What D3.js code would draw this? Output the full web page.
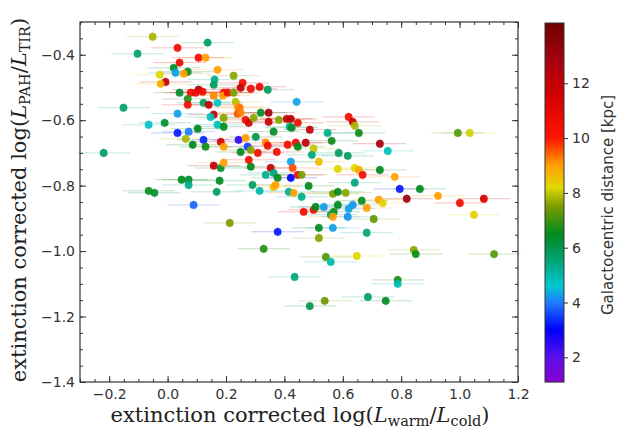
<!DOCTYPE html>
<html><head><meta charset="utf-8">
<script src="https://cdn.jsdelivr.net/npm/d3@7"></script>
<style>body{margin:0;background:#fff}svg{display:block}</style>
</head><body>
<svg id="chart" width="617" height="429"></svg>
<script>
// ---- data ----
const xVals = [-0.051,-0.103,0.137,0.034,0.106,0.130,0.041,0.021,0.027,0.069,0.055,-0.027,-0.007,-0.024,0.106,0.079,0.096,0.041,0.069,0.069,0.123,0.141,-0.151,0.034,-0.010,-0.065,0.072,0.034,0.103,
0.171,0.226,0.161,0.158,0.257,0.250,0.285,0.315,0.343,0.120,0.192,0.189,0.206,0.226,0.158,0.171,0.233,0.240,0.247,0.442,0.158,0.147,0.192,0.240,0.250,0.267,0.278,0.295,0.319,0.346,0.346,0.381,0.408,0.422,0.446,0.418,0.363,0.171,0.192,
0.123,0.182,0.192,0.243,0.267,0.274,0.302,0.336,0.343,0.411,0.439,0.473,0.487,0.425,0.548,0.562,0.620,0.634,0.641,0.655,0.727,0.754,0.446,0.500,0.494,0.586,0.617,0.518,0.422,0.583,0.641,0.655,0.668,0.727,0.778,0.428,0.446,0.459,
0.994,1.035,0.795,0.864,0.819,0.926,1.001,1.083,0.483,0.459,0.566,0.583,0.610,0.641,0.665,0.723,0.737,0.634,0.682,0.620,1.049,0.466,0.500,0.507,0.535,0.583,0.569,0.559,0.566,0.617,0.706,0.518,0.566,0.518,0.682,
0.542,0.559,0.648,0.843,0.850,1.118,0.788,0.788,0.686,0.747,0.538,0.487,0.435,0.329,0.377,0.213,0.089,-0.045,-0.065,0.048,0.072,0.072,0.168,0.178,0.285,0.158,0.182,0.192,0.353,0.336,0.363,0.377,0.291,0.315,0.363,
0.278,0.250,0.285,0.309,0.374,0.062,0.086,0.130,0.422,0.370,0.415,0.432,-0.219];
const yVals = [-0.345,-0.397,-0.363,-0.379,-0.409,-0.409,-0.424,-0.440,-0.455,-0.452,-0.458,-0.461,-0.483,-0.489,-0.507,-0.516,-0.516,-0.516,-0.535,-0.553,-0.547,-0.553,-0.562,-0.580,-0.608,-0.614,-0.635,-0.639,-0.626,
-0.446,-0.464,-0.476,-0.492,-0.486,-0.501,-0.504,-0.498,-0.507,-0.513,-0.516,-0.525,-0.516,-0.516,-0.525,-0.547,-0.544,-0.559,-0.562,-0.544,-0.583,-0.590,-0.593,-0.580,-0.577,-0.599,-0.608,-0.593,-0.577,-0.577,-0.605,-0.599,-0.596,-0.596,-0.608,-0.620,-0.635,-0.614,-0.620,
-0.660,-0.666,-0.681,-0.660,-0.654,-0.681,-0.651,-0.669,-0.678,-0.675,-0.669,-0.669,-0.629,-0.623,-0.639,-0.663,-0.590,-0.605,-0.617,-0.639,-0.672,-0.694,-0.681,-0.687,-0.706,-0.700,-0.709,-0.727,-0.727,-0.749,-0.746,-0.752,-0.767,-0.752,-0.773,-0.746,-0.767,-0.767,
-0.639,-0.639,-0.810,-0.810,-0.840,-0.831,-0.853,-0.840,-0.801,-0.834,-0.825,-0.819,-0.822,-0.791,-0.846,-0.843,-0.853,-0.859,-0.868,-0.871,-0.889,-0.880,-0.874,-0.865,-0.865,-0.859,-0.880,-0.889,-0.895,-0.895,-0.902,-0.929,-0.929,-0.960,-0.944,
-1.018,-1.033,-1.015,-0.996,-1.009,-1.009,-1.088,-1.100,-1.140,-1.152,-1.152,-1.168,-1.079,-0.993,-0.941,-0.914,-0.859,-0.822,-0.816,-0.782,-0.782,-0.798,-0.819,-0.785,-0.742,-0.739,-0.746,-0.730,-0.746,-0.767,-0.761,-0.776,-0.798,-0.816,-0.804,
-0.721,-0.697,-0.691,-0.700,-0.697,-0.657,-0.675,-0.681,-0.776,-0.798,-0.819,-0.822,-0.700];
const dist = [7.8,5.6,5.8,10.5,10.5,9.0,10.8,6.4,4.3,6.6,9.0,8.2,12.0,8.8,12.8,10.5,10.8,6.3,6.8,10.5,5.8,12.0,5.6,4.3,6.3,4.7,4.0,3.2,6.5,
9.0,7.6,5.3,5.8,10.5,12.0,10.5,10.8,5.8,10.5,10.2,9.0,10.5,7.5,9.2,4.7,7.9,9.0,9.3,4.3,12.0,4.8,7.6,9.6,9.2,10.5,11.5,7.6,6.3,12.8,11.8,7.6,12.0,12.2,10.5,5.3,6.4,4.8,6.4,
3.3,11.5,9.0,2.5,9.0,3.5,6.0,9.2,10.5,10.5,10.5,12.0,12.0,6.4,5.3,6.6,10.5,12.0,7.8,6.6,12.8,4.8,6.5,8.0,5.5,5.8,5.8,8.6,4.3,8.2,8.2,8.9,10.5,6.5,9.0,9.6,10.5,7.5,
7.2,8.1,3.2,6.5,13.0,9.0,10.5,11.5,6.5,5.3,7.5,6.5,7.6,5.5,6.6,9.0,8.3,4.2,9.0,4.3,8.3,10.5,10.5,6.5,4.3,6.5,6.6,5.8,9.0,4.2,7.3,6.5,4.3,7.6,5.5,
7.2,5.0,8.2,7.6,6.6,7.2,6.7,4.9,5.7,6.5,7.4,6.0,5.5,6.8,3.2,7.5,3.8,6.3,6.6,6.5,6.3,5.3,5.8,6.5,6.5,12.0,6.4,9.0,12.0,5.3,5.5,6.5,5.8,5.0,8.6,
10.5,6.5,7.6,10.5,10.5,7.8,6.5,6.6,3.0,9.0,5.3,9.0,5.8];
const xErr = 0.09;      // typical horizontal error
const yErr = 0.015;     // typical vertical error
const xTicks = [-0.2,0.0,0.2,0.4,0.6,0.8,1.0,1.2];
const yTicks = [-1.4,-1.2,-1.0,-0.8,-0.6,-0.4];
const cbTicks = [2,4,6,8,10,12];
const cmapStops = [1.1,2,3,4,4.6,5.5,6.5,7.5,8.2,9,10,11.5,13,14.2];
const cmapColors = ['#8a00d4','#5a10e8','#0000ff','#1e7cff','#00c8d0','#00a57a','#008a1e','#7a9c00','#e0d800','#ffa000','#ff1400','#d40000','#a00010','#700000'];

// ---- drawing ----
const svg = d3.select('#chart');
const L=80, R=518, T=22, B=382;
const x = d3.scaleLinear().domain([-0.3,1.2]).range([L,R]);
const y = d3.scaleLinear().domain([-1.4,-0.3]).range([B,T]);
const cmap = d3.scaleLinear().domain(cmapStops).range(cmapColors).interpolate(d3.interpolateRgb).clamp(true);

const pts = xVals.map((v,i)=>({x:v,y:yVals[i],c:dist[i]}));
const g = svg.append('g');
// error bars
g.selectAll('line.ex').data(pts).join('line')
  .attr('x1',d=>x(d.x-xErr)).attr('x2',d=>x(d.x+xErr))
  .attr('y1',d=>y(d.y)).attr('y2',d=>y(d.y))
  .attr('stroke',d=>cmap(d.c)).attr('stroke-opacity',0.25).attr('stroke-width',1);
g.selectAll('line.ey').data(pts).join('line')
  .attr('x1',d=>x(d.x)).attr('x2',d=>x(d.x))
  .attr('y1',d=>y(d.y-yErr)).attr('y2',d=>y(d.y+yErr))
  .attr('stroke',d=>cmap(d.c)).attr('stroke-opacity',0.25).attr('stroke-width',1);
g.selectAll('circle').data(pts).join('circle')
  .attr('cx',d=>x(d.x)).attr('cy',d=>y(d.y)).attr('r',3.9)
  .attr('fill',d=>cmap(d.c)).attr('fill-opacity',0.92);

// axes with inward ticks on all sides
const tickFont = 'DejaVu Sans, sans-serif';
const minorX = d3.range(-0.3,1.2001,0.05);
const minorY = d3.range(-1.4,-0.2999,0.05);
function styleAxis(sel){
  sel.select('.domain').remove();
  sel.selectAll('line').attr('stroke','#333');
  sel.selectAll('text').attr('font-family',tickFont).attr('font-size',14).attr('fill','#333');
}
svg.append('g').attr('transform',`translate(0,${B})`)
  .call(d3.axisBottom(x).tickValues(minorX).tickSize(-3).tickFormat('')).call(styleAxis);
svg.append('g').attr('transform',`translate(0,${B})`)
  .call(d3.axisBottom(x).tickValues(xTicks).tickSize(-6).tickPadding(7).tickFormat(d3.format('.1f'))).call(styleAxis);
svg.append('g').attr('transform',`translate(0,${T})`)
  .call(d3.axisTop(x).tickValues(minorX).tickSize(-3).tickFormat('')).call(styleAxis);
svg.append('g').attr('transform',`translate(0,${T})`)
  .call(d3.axisTop(x).tickValues(xTicks).tickSize(-6).tickFormat('')).call(styleAxis);
svg.append('g').attr('transform',`translate(${L},0)`)
  .call(d3.axisLeft(y).tickValues(minorY).tickSize(-3).tickFormat('')).call(styleAxis);
svg.append('g').attr('transform',`translate(${L},0)`)
  .call(d3.axisLeft(y).tickValues(yTicks).tickSize(-6).tickPadding(5).tickFormat(d3.format('.1f'))).call(styleAxis);
svg.append('g').attr('transform',`translate(${R},0)`)
  .call(d3.axisRight(y).tickValues(minorY).tickSize(-3).tickFormat('')).call(styleAxis);
svg.append('g').attr('transform',`translate(${R},0)`)
  .call(d3.axisRight(y).tickValues(yTicks).tickSize(-6).tickFormat('')).call(styleAxis);
svg.append('rect').attr('x',L).attr('y',T).attr('width',R-L).attr('height',B-T)
  .attr('fill','none').attr('stroke','#333').attr('stroke-width',1.2);

// axis labels (serif)
const serif = 'DejaVu Serif, serif';
const xl = svg.append('text').attr('x',300).attr('y',422).attr('text-anchor','middle')
  .attr('font-family',serif).attr('font-size',21).attr('fill','#222');
xl.append('tspan').text('extinction corrected log(');
xl.append('tspan').attr('font-style','italic').text('L');
xl.append('tspan').attr('font-size',14.5).attr('dy',4).text('warm');
xl.append('tspan').attr('dy',-4).text('/');
xl.append('tspan').attr('font-style','italic').text('L');
xl.append('tspan').attr('font-size',14.5).attr('dy',4).text('cold');
xl.append('tspan').attr('dy',-4).text(')');

const yl = svg.append('text').attr('transform',`translate(26,200) rotate(-90)`).attr('text-anchor','middle')
  .attr('font-family',serif).attr('font-size',21).attr('fill','#222');
yl.append('tspan').text('extinction corrected log(');
yl.append('tspan').attr('font-style','italic').text('L');
yl.append('tspan').attr('font-size',14.5).attr('dy',4).text('PAH');
yl.append('tspan').attr('dy',-4).text('/');
yl.append('tspan').attr('font-style','italic').text('L');
yl.append('tspan').attr('font-size',14.5).attr('dy',4).text('TIR');
yl.append('tspan').attr('dy',-4).text(')');

// colorbar
const CX=545, CW=19, CT=23, CB=382;
const cy = d3.scaleLinear().domain([1.1,14.2]).range([CB,CT]);
const cbRows = d3.range(CT,CB,1);
svg.append('g').selectAll('rect').data(cbRows).join('rect')
  .attr('x',CX).attr('y',d=>d).attr('width',CW).attr('height',1.2)
  .attr('fill',d=>cmap(cy.invert(d+0.5)));
svg.append('rect').attr('x',CX).attr('y',CT).attr('width',CW).attr('height',CB-CT)
  .attr('fill','none').attr('stroke','#333').attr('stroke-width',1);
svg.append('g').attr('transform',`translate(${CX+CW},0)`)
  .call(d3.axisRight(cy).tickValues(cbTicks).tickSize(4).tickPadding(4).tickFormat(d3.format('d')))
  .call(s=>{s.select('.domain').remove();s.selectAll('line').attr('stroke','#333');
    s.selectAll('text').attr('font-family',tickFont).attr('font-size',14).attr('fill','#333');});
svg.append('text').attr('transform',`translate(613,205) rotate(-90)`).attr('text-anchor','middle')
  .attr('font-family',tickFont).attr('font-size',15).attr('fill','#333')
  .text('Galactocentric distance [kpc]');
</script>
</body></html>
